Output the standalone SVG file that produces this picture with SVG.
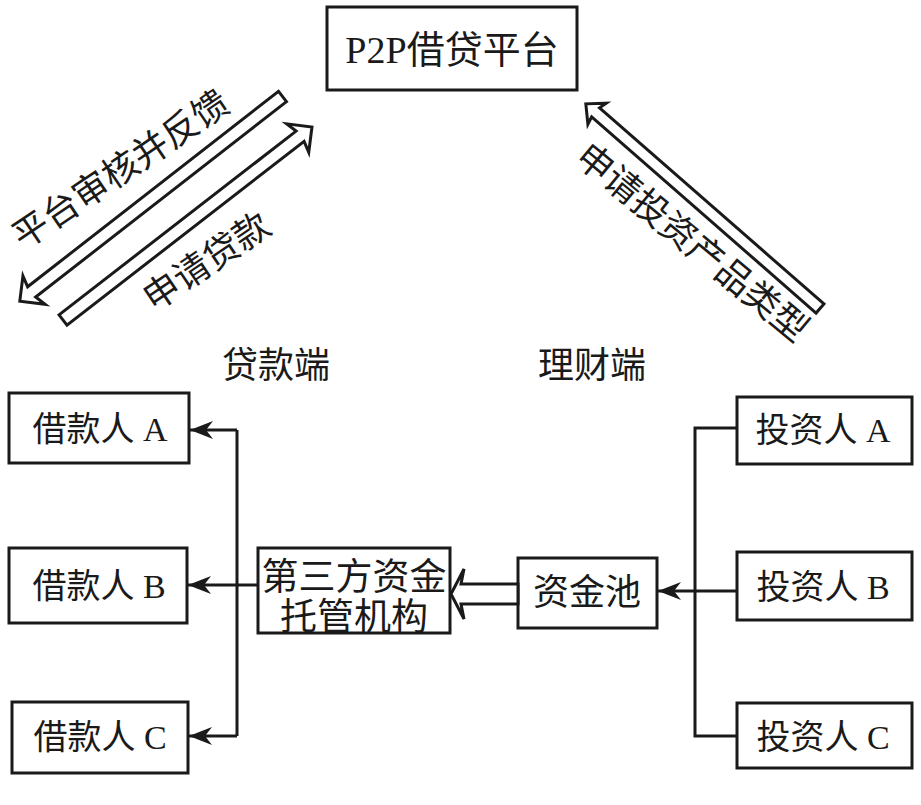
<svg xmlns="http://www.w3.org/2000/svg" width="921" height="805" viewBox="0 0 921 805">
<defs>
<style>
.box{fill:#fff;stroke:#1a1a1a;stroke-width:3}
.t{font-family:"Liberation Serif","Noto Sans CJK SC",serif;fill:#1a1a1a;text-anchor:middle;dominant-baseline:central}
.ln{fill:none;stroke:#1a1a1a;stroke-width:3}
.hollow{fill:#fff;stroke:#1a1a1a;stroke-width:3;stroke-linejoin:miter}
</style>
<marker id="ah" markerUnits="userSpaceOnUse" markerWidth="24" markerHeight="20" refX="23" refY="10" orient="auto" viewBox="0 0 24 20">
<path d="M23,10 L0,1 L7,10 L0,19 Z" fill="#1a1a1a"/>
</marker>
</defs>
<rect width="921" height="805" fill="#fff"/>

<g id="platform">
<rect class="box" x="327" y="7" width="250" height="83"/>
<text class="t" x="452" y="50" font-size="38">P2P借贷平台</text>
</g>

<g id="label-loan"><text class="t" x="276" y="366" font-size="36">贷款端</text></g>
<g id="label-invest"><text class="t" x="592" y="366" font-size="36">理财端</text></g>

<g id="borrowerA"><rect class="box" x="9" y="393" width="180" height="70"/><text class="t" x="100" y="429" font-size="34">借款人 A</text></g>
<g id="borrowerB"><rect class="box" x="9" y="548" width="178" height="75"/><text class="t" x="99" y="586" font-size="34">借款人 B</text></g>
<g id="borrowerC"><rect class="box" x="12" y="702" width="176" height="71"/><text class="t" x="100" y="737" font-size="34">借款人 C</text></g>

<g id="custodian"><rect class="box" x="258" y="548" width="192" height="85"/>
<text class="t" x="354" y="577" font-size="37">第三方资金</text>
<text class="t" x="354" y="617" font-size="37">托管机构</text></g>

<g id="pool"><rect class="box" x="518" y="558" width="139" height="70"/><text class="t" x="587" y="593" font-size="36">资金池</text></g>

<g id="investorA"><rect class="box" x="737" y="397" width="175" height="67"/><text class="t" x="823" y="430" font-size="34">投资人 A</text></g>
<g id="investorB"><rect class="box" x="737" y="552" width="175" height="68"/><text class="t" x="823" y="587" font-size="34">投资人 B</text></g>
<g id="investorC"><rect class="box" x="737" y="703" width="175" height="65"/><text class="t" x="823" y="737" font-size="34">投资人 C</text></g>

<g id="connectors">
<polyline class="ln" points="258,585 237,585"/>
<polyline class="ln" points="237,430 237,736"/>
<line class="ln" x1="237" y1="430" x2="190" y2="430" marker-end="url(#ah)"/>
<line class="ln" x1="237" y1="585" x2="188" y2="585" marker-end="url(#ah)"/>
<line class="ln" x1="237" y1="736" x2="189" y2="736" marker-end="url(#ah)"/>
<polyline class="ln" points="737,428 695,428 695,736 737,736"/>
<line class="ln" x1="737" y1="591" x2="695" y2="591"/>
<line class="ln" x1="695" y1="591" x2="658" y2="591" marker-end="url(#ah)"/>
<polygon class="hollow" points="518,584 461,584 464,569 451,594 464,619 461,604 518,604"/>
<polygon class="hollow" transform="translate(282.5,96.5) rotate(142.08)" points="0,-6.5 318,-6.5 315,-18 333,0 315,18 318,6.5 0,6.5"/>
<polygon class="hollow" transform="translate(63,320) rotate(-37.78)" points="0,-6.5 300,-6.5 297,-18 315,0 297,18 300,6.5 0,6.5"/>
<polygon class="hollow" transform="translate(820,308.5) rotate(-138.85)" points="0,-6 298,-6 296,-14 311,0 296,14 298,6 0,6"/>
</g>

<g id="arrow-labels">
<text class="t" font-size="36" transform="translate(121,170) rotate(-34)">平台审核并反馈</text>
<text class="t" font-size="36" transform="translate(207,262) rotate(-34)">申请贷款</text>
<text class="t" font-size="36" transform="translate(692,243) rotate(39.5)">申请投资产品类型</text>
</g>
</svg>
